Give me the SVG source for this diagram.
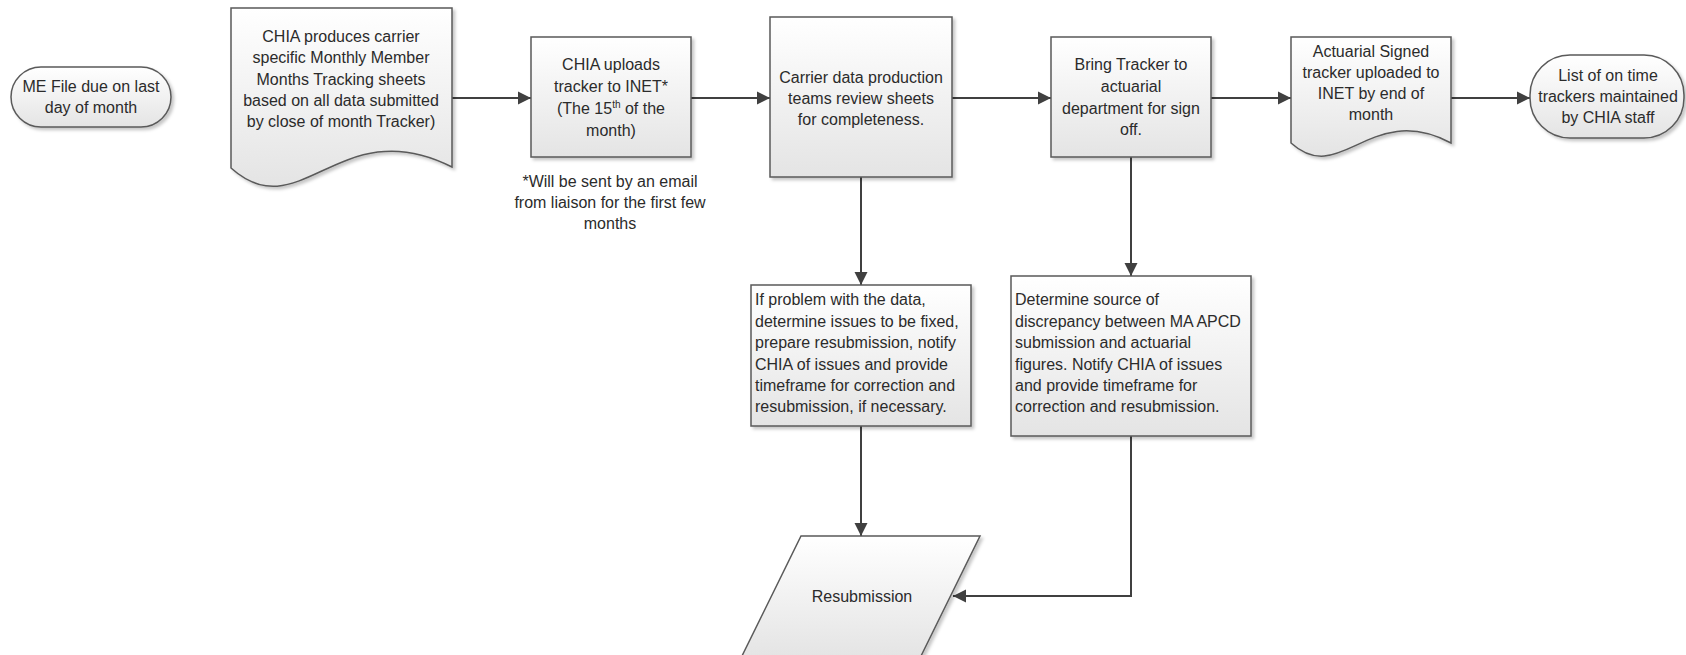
<svg xmlns="http://www.w3.org/2000/svg" width="1686" height="655" viewBox="0 0 1686 655">
<style>
  .shape { fill: url(#g); stroke: #5a5a5a; stroke-width: 1.5; filter: url(#sh); }
  .t { font-family: "Liberation Sans", Arial, sans-serif; font-size: 16px; fill: #2b2b2b; }
  .c { text-anchor: middle; }
  .conn { fill: none; stroke: #404040; stroke-width: 2; marker-end: url(#ah); }
</style>
<defs>
  <linearGradient id="g" x1="0" y1="0" x2="0" y2="1">
    <stop offset="0" stop-color="#ffffff"/>
    <stop offset="1" stop-color="#e4e4e4"/>
  </linearGradient>
  <filter id="sh" x="-10%" y="-10%" width="130%" height="130%">
    <feDropShadow dx="2.5" dy="2.5" stdDeviation="1.5" flood-color="#000" flood-opacity="0.22"/>
  </filter>
  <marker id="ah" markerUnits="userSpaceOnUse" markerWidth="14" markerHeight="14" viewBox="0 0 14 14" refX="13" refY="7" orient="auto">
    <path d="M0,0.5 L13,7 L0,13.5 Z" fill="#404040"/>
  </marker>
</defs>
<rect width="1686" height="655" fill="#ffffff"/>

<g id="connectors">
  <path class="conn" d="M452,98 H531"/>
  <path class="conn" d="M691,98 H770"/>
  <path class="conn" d="M952,98 H1051"/>
  <path class="conn" d="M1211,98 H1291"/>
  <path class="conn" d="M1451,98 H1530"/>
  <path class="conn" d="M861,177 V285"/>
  <path class="conn" d="M861,426 V536"/>
  <path class="conn" d="M1131,157 V276"/>
  <path class="conn" d="M1131,436 V596 H953"/>
</g>

<g id="node-me-file">
  <rect class="shape" x="11" y="67" width="160" height="60" rx="30" ry="30"/>
  <text class="t c" x="91" y="92">ME File due on last</text>
  <text class="t c" x="91" y="113">day of month</text>
</g>

<g id="node-chia-produces">
  <path class="shape" d="M231,8 H452 V167 C340,110 300,230 231,168 Z"/>
  <text class="t c" x="341" y="42">CHIA produces carrier</text>
  <text class="t c" x="341" y="63">specific Monthly Member</text>
  <text class="t c" x="341" y="85">Months Tracking sheets</text>
  <text class="t c" x="341" y="106">based on all data submitted</text>
  <text class="t c" x="341" y="127">by close of month Tracker)</text>
</g>

<g id="node-chia-uploads">
  <rect class="shape" x="531" y="37" width="160" height="120"/>
  <text class="t c" x="611" y="70">CHIA uploads</text>
  <text class="t c" x="611" y="92">tracker to INET*</text>
  <text class="t c" x="611" y="114">(The 15<tspan font-size="10" dy="-6">th</tspan><tspan dy="6"> of the</tspan></text>
  <text class="t c" x="611" y="136">month)</text>
</g>

<g id="note-email">
  <text class="t c" x="610" y="187">*Will be sent by an email</text>
  <text class="t c" x="610" y="208">from liaison for the first few</text>
  <text class="t c" x="610" y="229">months</text>
</g>

<g id="node-carrier-review">
  <rect class="shape" x="770" y="17" width="182" height="160"/>
  <text class="t c" x="861" y="83">Carrier data production</text>
  <text class="t c" x="861" y="104">teams review sheets</text>
  <text class="t c" x="861" y="125">for completeness.</text>
</g>

<g id="node-bring-tracker">
  <rect class="shape" x="1051" y="37" width="160" height="120"/>
  <text class="t c" x="1131" y="70">Bring Tracker to</text>
  <text class="t c" x="1131" y="92">actuarial</text>
  <text class="t c" x="1131" y="114">department for sign</text>
  <text class="t c" x="1131" y="135">off.</text>
</g>

<g id="node-actuarial-signed">
  <path class="shape" d="M1291,37 H1451 V143 C1370,100 1341,188 1291,143 Z"/>
  <text class="t c" x="1371" y="57">Actuarial Signed</text>
  <text class="t c" x="1371" y="78">tracker uploaded to</text>
  <text class="t c" x="1371" y="99">INET by end of</text>
  <text class="t c" x="1371" y="120">month</text>
</g>

<g id="node-list-on-time">
  <rect class="shape" x="1530" y="55" width="154" height="83" rx="40" ry="40"/>
  <text class="t c" x="1608" y="81">List of on time</text>
  <text class="t c" x="1608" y="102">trackers maintained</text>
  <text class="t c" x="1608" y="123">by CHIA staff</text>
</g>

<g id="node-if-problem">
  <rect class="shape" x="751" y="285" width="220" height="141"/>
  <text class="t" x="755" y="305">If problem with the data,</text>
  <text class="t" x="755" y="327">determine issues to be fixed,</text>
  <text class="t" x="755" y="348">prepare resubmission, notify</text>
  <text class="t" x="755" y="370">CHIA of issues and provide</text>
  <text class="t" x="755" y="391">timeframe for correction and</text>
  <text class="t" x="755" y="412">resubmission, if necessary.</text>
</g>

<g id="node-determine-source">
  <rect class="shape" x="1011" y="276" width="240" height="160"/>
  <text class="t" x="1015" y="305">Determine source of</text>
  <text class="t" x="1015" y="327">discrepancy between MA APCD</text>
  <text class="t" x="1015" y="348">submission and actuarial</text>
  <text class="t" x="1015" y="370">figures. Notify CHIA of issues</text>
  <text class="t" x="1015" y="391">and provide timeframe for</text>
  <text class="t" x="1015" y="412">correction and resubmission.</text>
</g>

<g id="node-resubmission">
  <path class="shape" d="M801,536 H980 L920,658 H741 Z"/>
  <text class="t c" x="862" y="602">Resubmission</text>
</g>
</svg>
